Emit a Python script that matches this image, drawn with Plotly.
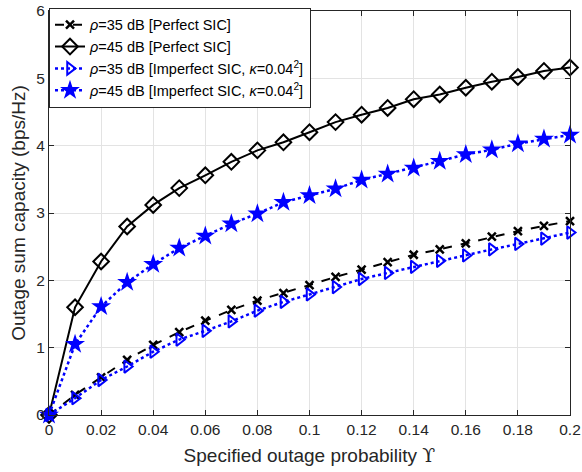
import plotly.graph_objects as go

# Specified outage probability (x axis)
outage_prob = [round(0.01 * i, 2) for i in range(21)]

# Outage sum capacity (bps/Hz) for each scenario
cap_35_perfect = [0, 0.30, 0.56, 0.82, 1.04, 1.23, 1.40, 1.56, 1.70, 1.81, 1.93,
                  2.05, 2.16, 2.27, 2.38, 2.46, 2.55, 2.65, 2.73, 2.81, 2.88]
cap_45_perfect = [0, 1.60, 2.28, 2.80, 3.12, 3.37, 3.56, 3.76, 3.93, 4.05, 4.20,
                  4.35, 4.46, 4.56, 4.69, 4.76, 4.86, 4.95, 5.02, 5.11, 5.16]
cap_35_imperfect = [0, 0.25, 0.52, 0.72, 0.94, 1.12, 1.25, 1.39, 1.55, 1.68, 1.79,
                    1.90, 2.02, 2.11, 2.20, 2.29, 2.37, 2.46, 2.54, 2.62, 2.71]
cap_45_imperfect = [0, 1.05, 1.61, 1.97, 2.24, 2.48, 2.66, 2.84, 2.99, 3.16, 3.26,
                    3.36, 3.49, 3.58, 3.67, 3.77, 3.87, 3.94, 4.03, 4.10, 4.16]

x_ticks = [0, 0.02, 0.04, 0.06, 0.08, 0.1, 0.12, 0.14, 0.16, 0.18, 0.2]
x_tick_text = ["0", "0.02", "0.04", "0.06", "0.08", "0.1", "0.12", "0.14", "0.16", "0.18", "0.2"]
y_ticks = [0, 1, 2, 3, 4, 5, 6]

BLUE = "#0000ff"
FONT = "Liberation Sans, Arial"
TEXT = "#262626"

fig = go.Figure()
fig.add_trace(go.Scatter(
    x=outage_prob, y=cap_35_perfect, mode="lines+markers",
    name="<i>ρ</i>=35 dB [Perfect SIC]",
    line=dict(color="black", width=2, dash="dash"),
    marker=dict(symbol="x-thin", size=8, line=dict(color="black", width=2.5)),
    cliponaxis=False,
))
fig.add_trace(go.Scatter(
    x=outage_prob, y=cap_45_perfect, mode="lines+markers",
    name="<i>ρ</i>=45 dB [Perfect SIC]",
    line=dict(color="black", width=2),
    marker=dict(symbol="diamond-open", size=12, color="black", line=dict(width=2)),
    cliponaxis=False,
))
fig.add_trace(go.Scatter(
    x=outage_prob, y=cap_35_imperfect, mode="lines+markers",
    name="<i>ρ</i>=35 dB [Imperfect SIC, <i>κ</i>=0.04<sup>2</sup>]",
    line=dict(color=BLUE, width=2.5, dash="dot"),
    marker=dict(symbol="triangle-right-open", size=11, color=BLUE, line=dict(width=2)),
    cliponaxis=False,
))
fig.add_trace(go.Scatter(
    x=outage_prob, y=cap_45_imperfect, mode="lines+markers",
    name="<i>ρ</i>=45 dB [Imperfect SIC, <i>κ</i>=0.04<sup>2</sup>]",
    line=dict(color=BLUE, width=2.5, dash="dot"),
    marker=dict(symbol="star", size=15, color=BLUE, line=dict(width=0)),
    cliponaxis=False,
))

axis_common = dict(
    showline=True, linecolor=TEXT, linewidth=1, mirror="ticks",
    ticks="inside", ticklen=5, tickcolor=TEXT,
    showgrid=True, gridcolor="#e3e3e3", gridwidth=1, zeroline=False,
    tickfont=dict(family=FONT, size=15.5, color=TEXT),
    ticklabeloverflow="allow", automargin=False,
)

x_title = ("Specified outage probability "
           "<span style=\"font-family:'DejaVu Serif'\">ϒ</span>")

fig.update_layout(
    width=582, height=472,
    margin=dict(l=49, r=12, t=8, b=57),
    paper_bgcolor="white", plot_bgcolor="white",
    font=dict(family=FONT, color=TEXT),
    xaxis=dict(
        range=[0, 0.2], tickvals=x_ticks, ticktext=x_tick_text,
        title=dict(text=x_title, font=dict(size=19, color=TEXT), standoff=12),
        **axis_common,
    ),
    yaxis=dict(
        range=[0, 6], tickvals=y_ticks,
        title=dict(text="Outage sum capacity (bps/Hz)", font=dict(size=19, color=TEXT), standoff=5),
        **axis_common,
    ),
    legend=dict(
        x=0, y=1.008, xanchor="left", yanchor="top",
        bgcolor="white", bordercolor=TEXT, borderwidth=1,
        font=dict(family=FONT, size=14.5, color="black"),
        tracegroupgap=0, itemwidth=30,
    ),
)

fig.write_html("out.html")
